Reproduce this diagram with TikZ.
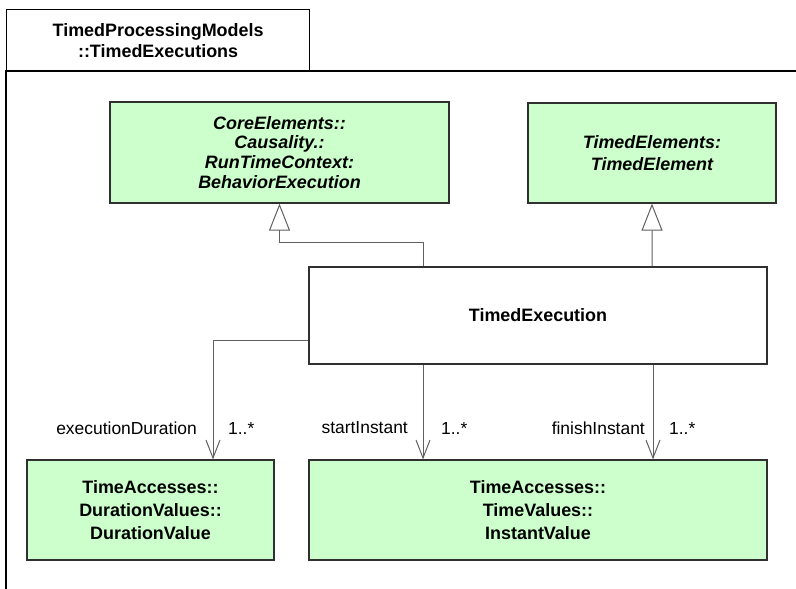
\documentclass[tikz,border=0pt]{standalone}
\usepackage{fontspec}
\setmainfont{Liberation Sans}
\usetikzlibrary{arrows.meta}
\definecolor{boxgreen}{HTML}{CCFFCC}
\definecolor{linegray}{HTML}{606060}
\definecolor{edgedark}{HTML}{303030}
\begin{document}
\begin{tikzpicture}[x=1bp,y=-1bp,
  cls/.style={draw=edgedark, line width=1.2bp, fill=boxgreen, align=center, inner sep=0pt,
    font=\fontsize{18}{23}\selectfont\bfseries},
  plain/.style={draw=edgedark, line width=1.2bp, fill=white, align=center, inner sep=0pt,
    font=\fontsize{18}{23}\selectfont\bfseries},
  gen/.style={draw=linegray, line width=1bp, -{Triangle[open, length=27bp, width=21bp, fill=white]}},
  assoc/.style={draw=linegray, line width=1bp, -{Straight Barb[length=18bp, width=14bp, line width=1bp]}},
  lbl/.style={font=\fontsize{17.5}{20}\selectfont, inner sep=0pt}
]
\useasboundingbox (0,0) rectangle (796,589);
% package frame
\node[draw=black, line width=1.2bp, minimum width=303bp, minimum height=62bp, inner sep=0pt, anchor=north west,
  align=center, font=\fontsize{18}{21}\selectfont\bfseries] (tab) at (6,9)
  {TimedProcessingModels\\::TimedExecutions};
\coordinate (frTR) at (796,71);
\coordinate (frBL) at (6,589);
\draw[black, line width=1.2bp] (frTR) -- (tab.south west |- frTR) -- (frBL);

% classes
\node[cls, minimum width=339bp, minimum height=101bp, font=\fontsize{18}{20}\selectfont\bfseries\itshape] (ce) at (279.5,152.5)
  {CoreElements::\\Causality.:\\RunTimeContext:\\BehaviorExecution};
\node[cls, minimum width=248bp, minimum height=100bp, font=\fontsize{18}{22}\selectfont\bfseries\itshape] (tel) at (652,153)
  {TimedElements:\\TimedElement};
\node[plain, minimum width=458bp, minimum height=97bp] (te) at (538,315.5) {TimedExecution};
\node[cls, minimum width=247bp, minimum height=100bp, font=\fontsize{18}{23}\selectfont\bfseries] (dv) at (150.5,510)
  {TimeAccesses::\\DurationValues::\\DurationValue};
\node[cls, minimum width=458bp, minimum height=100bp, font=\fontsize{18}{23}\selectfont\bfseries] (iv) at (538,510)
  {TimeAccesses::\\TimeValues::\\InstantValue};

% generalizations
\draw[gen] ([xshift=-115bp]te.north) -- ++(0,-24) -| (ce.south);
\draw[gen] ([xshift=114bp]te.north) -- (tel.south);

% associations
\draw[assoc] ([yshift=-24.5bp]te.west) -| ([xshift=62.5bp]dv.north);
\draw[assoc] ([xshift=-115bp]te.south) -- ([xshift=-115bp]iv.north);
\draw[assoc] ([xshift=115bp]te.south) -- ([xshift=115bp]iv.north);

% labels
\node[lbl, anchor=east] (l1) at (197,428) {executionDuration};
\node[lbl, anchor=west] (m1) at (228,428) {1..*};
\node[lbl, anchor=east] (l2) at (408,428) {startInstant};
\node[lbl, anchor=west] (m2) at (441,428) {1..*};
\node[lbl, anchor=east] (l3) at (645,428) {finishInstant};
\node[lbl, anchor=west] (m3) at (669,428) {1..*};
\end{tikzpicture}
\end{document}
